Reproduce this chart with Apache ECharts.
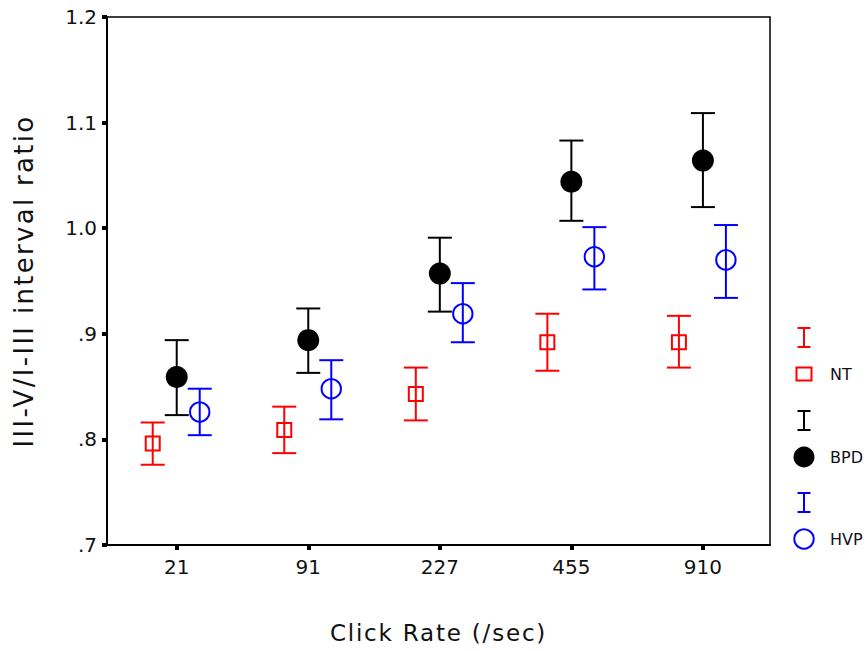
<!DOCTYPE html>
<html><head><meta charset="utf-8">
<script src="https://cdn.jsdelivr.net/npm/echarts@6/dist/echarts.min.js"></script>
<style>html,body{margin:0;padding:0;background:#fff}#c{width:868px;height:651px}</style>
</head><body><div id="c"></div>
<script>
const categories = ['21', '91', '227', '455', '910'];
const yTicks = [0.7, 0.8, 0.9, 1.0, 1.1, 1.2];
// mean, lower, upper
const ntMean = [0.796, 0.809, 0.843, 0.892, 0.892];
const ntLow  = [0.776, 0.787, 0.818, 0.865, 0.868];
const ntHigh = [0.816, 0.831, 0.868, 0.919, 0.917];
const bpdMean = [0.859, 0.894, 0.957, 1.044, 1.064];
const bpdLow  = [0.823, 0.863, 0.921, 1.007, 1.020];
const bpdHigh = [0.894, 0.924, 0.991, 1.083, 1.109];
const hvpMean = [0.826, 0.848, 0.919, 0.973, 0.970];
const hvpLow  = [0.804, 0.819, 0.892, 0.942, 0.934];
const hvpHigh = [0.848, 0.875, 0.948, 1.001, 1.003];

const FONT = 'DejaVu Sans';
const X_TITLE = 'Click Rate (/sec)';
const Y_TITLE = 'III-V/I-III interval ratio';
function build(mean, lo, hi){ return categories.map((c,i)=>[i+1, mean[i], lo[i], hi[i]]); }

function makeSeries(name, data, color, shape, dx){
  return {
    type:'custom', name, data, clip:false,
    encode:{x:0, y:1},
    renderItem(params, api){
      const x = api.value(0);
      const pm = api.coord([x, api.value(1)]);
      const pl = api.coord([x, api.value(2)]);
      const ph = api.coord([x, api.value(3)]);
      const cx = pm[0] + dx;
      const cap = 12;
      const ls = {stroke:color, lineWidth:2, fill:null};
      const children = [
        {type:'line', shape:{x1:cx, y1:pl[1], x2:cx, y2:ph[1]}, style:ls},
        {type:'line', shape:{x1:cx-cap, y1:pl[1], x2:cx+cap, y2:pl[1]}, style:ls},
        {type:'line', shape:{x1:cx-cap, y1:ph[1], x2:cx+cap, y2:ph[1]}, style:ls}
      ];
      if (shape==='square') children.push({type:'rect', shape:{x:cx-7, y:pm[1]-7, width:14, height:14}, style:{stroke:color, lineWidth:2, fill:null}});
      if (shape==='dot') children.push({type:'circle', shape:{cx:cx, cy:pm[1], r:11}, style:{fill:color}});
      if (shape==='ring') children.push({type:'circle', shape:{cx:cx, cy:pm[1], r:9.7}, style:{stroke:color, lineWidth:2, fill:null}});
      return {type:'group', children};
    }
  };
}

function legendItem(y0, color, shape, label){
  const ls = {stroke:color, lineWidth:2};
  const x = 804;
  const items = [
    {type:'line', shape:{x1:x, y1:y0, x2:x, y2:y0+19}, style:ls},
    {type:'line', shape:{x1:x-6.5, y1:y0, x2:x+6.5, y2:y0}, style:ls},
    {type:'line', shape:{x1:x-6.5, y1:y0+19, x2:x+6.5, y2:y0+19}, style:ls}
  ];
  const my = y0 + 46;
  if (shape==='square') items.push({type:'rect', shape:{x:x-7.5, y:my-6.5, width:15, height:13}, style:{stroke:color, lineWidth:2, fill:null}});
  if (shape==='dot') items.push({type:'circle', shape:{cx:x, cy:my, r:10.5}, style:{fill:color}});
  if (shape==='ring') items.push({type:'circle', shape:{cx:x, cy:my, r:9.7}, style:{stroke:color, lineWidth:2, fill:null}});
  items.push({type:'text', x:830, y:my, style:{text:label, fill:'#111', font:'16px "'+FONT+'"', verticalAlign:'middle'}});
  return items;
}

const chart = echarts.init(document.getElementById('c'), null, {renderer:'svg'});
function spaceTitles(){
  document.querySelectorAll('#c svg text').forEach(t=>{
    if (t.textContent === X_TITLE) t.style.letterSpacing = '1.8px';
    if (t.textContent === Y_TITLE) t.style.letterSpacing = '2.3px';
  });
}
chart.on('finished', spaceTitles);
chart.setOption({
  animation:false,
  backgroundColor:'#fff',
  grid:{left:107, top:17, right:98, bottom:106, show:true, borderColor:'#000', borderWidth:1.5, backgroundColor:'transparent'},
  xAxis:{
    type:'value', min:0.47, max:5.51,
    name:X_TITLE, nameLocation:'middle', nameGap:76,
    nameTextStyle:{fontFamily:FONT, fontSize:23, color:'#111'},
    axisLine:{show:true, onZero:false, lineStyle:{color:'#000', width:2}},
    axisTick:{show:true, length:5, customValues:[1,2,3,4,5], lineStyle:{color:'#000', width:4}},
    axisLabel:{customValues:[1,2,3,4,5], margin:12, fontFamily:FONT, fontSize:20, color:'#111',
      formatter:v=>categories[Math.round(v)-1] || ''},
    splitLine:{show:false}
  },
  yAxis:{
    type:'value', min:0.7, max:1.2, interval:0.1,
    name:Y_TITLE, nameLocation:'middle', nameGap:70,
    nameTextStyle:{fontFamily:FONT, fontSize:26, color:'#111'},
    axisLine:{show:true, lineStyle:{color:'#000', width:2}},
    axisTick:{show:true, length:5, lineStyle:{color:'#000', width:4}},
    axisLabel:{customValues:yTicks, margin:10, fontFamily:FONT, fontSize:20, color:'#111',
      formatter:v=>{const s=v.toFixed(1); return v<1 ? s.replace(/^0/,'') : s;}},
    splitLine:{show:false}
  },
  series:[
    makeSeries('NT', build(ntMean, ntLow, ntHigh), '#ff0000', 'square', -24),
    makeSeries('BPD', build(bpdMean, bpdLow, bpdHigh), '#000000', 'dot', 0),
    makeSeries('HVP', build(hvpMean, hvpLow, hvpHigh), '#0000ff', 'ring', 23)
  ],
  graphic:[].concat(
    legendItem(328, '#ff0000', 'square', 'NT'),
    legendItem(411, '#000000', 'dot', 'BPD'),
    legendItem(493, '#0000ff', 'ring', 'HVP')
  )
});
spaceTitles();
setTimeout(spaceTitles, 50);
</script></body></html>
